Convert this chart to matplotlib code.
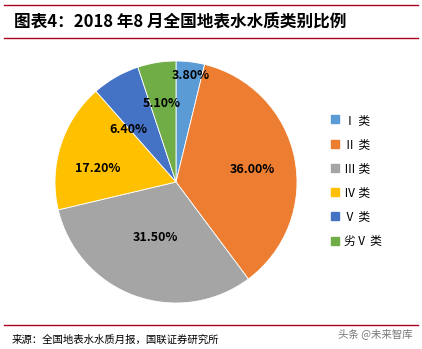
import matplotlib.pyplot as plt
from matplotlib.lines import Line2D

plt.rcParams['font.family'] = ['Noto Sans CJK SC', 'DejaVu Sans']

# 2018年8月全国地表水水质类别比例
categories = ['Ⅰ 类', 'Ⅱ 类', 'Ⅲ 类', 'Ⅳ 类', 'Ⅴ 类', '劣Ⅴ 类']
shares = [3.80, 36.00, 31.50, 17.20, 6.40, 5.10]
colors = ['#5B9BD5', '#ED7D31', '#A5A5A5', '#FFC000', '#4472C4', '#70AD47']

W, H = 422, 349
fig = plt.figure(figsize=(W / 100, H / 100), dpi=100)

# pie area, center ~ (176, 182), radius ~121 px
r = 121
cx, cy = 176, 182
ax = fig.add_axes([(cx - r) / W, 1 - (cy + r) / H, 2 * r / W, 2 * r / H])
wedges, texts, autotexts = ax.pie(
    shares, colors=colors, startangle=90, counterclock=False,
    autopct='%.2f%%', pctdistance=0.62,
    wedgeprops=dict(edgecolor='white', linewidth=0.6),
    textprops=dict(fontsize=9, fontweight='bold', color='black'))
ax.set_xlim(-1, 1)
ax.set_ylim(-1, 1)
ax.set_aspect('equal')

# label spots as in the original (fractions of radius)
label_pos = [(0.12, 0.88), (0.63, 0.10), (-0.17, -0.46), (-0.65, 0.11), (-0.39, 0.43), (-0.12, 0.65)]
for t, (x, y) in zip(autotexts, label_pos):
    t.set_position((x, y))

# legend
handles = [Line2D([], [], marker='s', linestyle='', markersize=5.5,
                  markerfacecolor=c, markeredgecolor=c) for c in colors]
fig.legend(handles, categories, loc='upper left', bbox_to_anchor=(318 / W, 1 - 103 / H),
           frameon=False, fontsize=8.5, labelspacing=0.95, handletextpad=0.3,
           handlelength=1.0)

# title & rules
red = '#A50021'
for y in [5, 38, 325]:
    fig.add_artist(Line2D([4 / W, 418 / W], [1 - y / H, 1 - y / H], color=red, linewidth=1.0))
fig.text(14 / W, 1 - 22 / H, '图表4：2018 年8 月全国地表水水质类别比例', fontsize=12,
         fontweight='bold', style='italic', va='center', ha='left', color='black')
fig.text(12 / W, 1 - 340 / H, '来源：全国地表水水质月报，国联证券研究所', fontsize=7.5,
         va='center', ha='left', color='black')
fig.text(412 / W, 1 - 334 / H, '头条 @未来智库', fontsize=7.5, va='center', ha='right',
         color='#777777')

fig.savefig('out.png', dpi=100)
